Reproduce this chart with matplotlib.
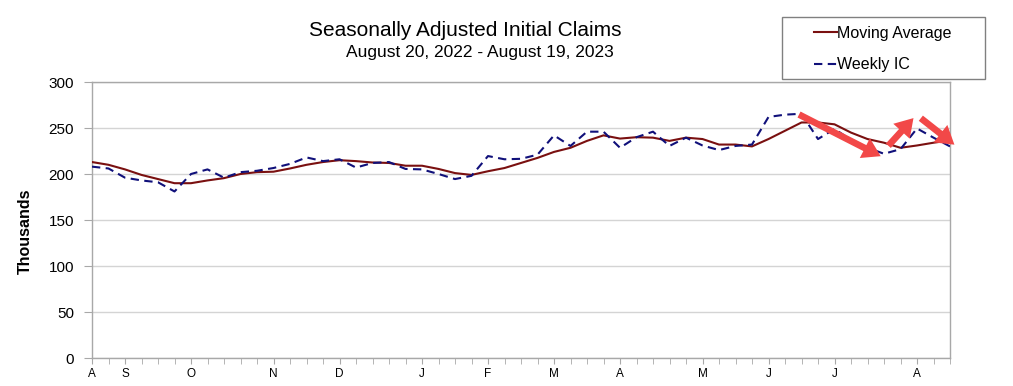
import numpy as np
import pandas as pd
import matplotlib
matplotlib.use('Agg')
import matplotlib.pyplot as plt
from matplotlib.patches import Rectangle, FancyArrowPatch

plt.rcParams['font.family'] = ['Liberation Sans', 'DejaVu Sans']

# weekly data, week ending Saturday
weeks = pd.date_range('2022-08-20', '2023-08-19', freq='7D')

moving_avg = [213, 210, 205, 199, 194.5, 190, 190, 193, 195.5, 200,
              202, 202.5, 206, 210, 213, 215, 214, 212.5, 212, 209,
              209, 205.5, 201, 199, 203, 206.5, 212, 217.5, 224, 228.5,
              236, 242, 238.5, 240, 239.5, 236, 239.5, 238, 232, 232,
              230, 238, 247, 256, 256, 254, 245, 238, 234, 228.5,
              231, 234, 236.5]

weekly_ic = [208, 206, 196, 193, 191, 181, 200, 205, 196, 202,
             203.5, 206.5, 211, 218, 214, 216, 207, 212, 213, 205.5,
             205, 200, 194.5, 198, 219.5, 216, 216.5, 221, 242, 230.5,
             246, 246, 228.5, 240, 246, 230.5, 239.5, 231, 226, 230.5,
             232, 262, 264.5, 265.5, 238, 249, 237, 228.5, 222, 227,
             249.5, 239.5, 230]

# red annotation arrows (week index, thousands)
arrows = [((42.7, 266), (47.95, 218)),
          ((48.15, 228.5), (49.9, 263)),
          ((50.1, 262.5), (52.4, 230))]

title = 'Seasonally Adjusted Initial Claims'
subtitle = 'August 20, 2022 - August 19, 2023'


def main():
    x = np.arange(len(weeks))

    fig = plt.figure(figsize=(10.13, 3.86), dpi=100)
    ax = fig.add_axes([92 / 1013, 1 - 358 / 386, 858 / 1013, 276 / 386])

    ax.plot(x, moving_avg, color='#7a1010', lw=1.5, label='Moving Average', zorder=3)
    ax.plot(x, weekly_ic, color='#10107a', lw=1.5, linestyle=(0, (4, 2.6)),
            label='Weekly IC', zorder=3)

    for start, end in arrows:
        arr = FancyArrowPatch(start, end,
                              arrowstyle='simple,head_width=1.0,head_length=0.8,tail_width=0.3',
                              mutation_scale=16, color='#f24848', lw=0,
                              clip_on=False, zorder=5)
        ax.add_patch(arr)

    ax.set_xlim(0, len(weeks) - 1)
    ax.set_ylim(0, 300)
    ax.set_yticks(range(0, 301, 50))
    ax.grid(axis='y', color='#d4d4d4', lw=1)
    ax.set_axisbelow(True)

    # month letter at first week of each month
    pos, labs = [], []
    for i, d in enumerate(weeks):
        if i == 0 or d.month != weeks[i - 1].month:
            pos.append(i)
            labs.append(d.strftime('%B')[0])
    ax.set_xticks(pos)
    ax.set_xticklabels(labs, family=['Liberation Sans Narrow', 'Liberation Sans'], fontsize=8.5)
    ax.set_xticks(x, minor=True)
    ax.tick_params(axis='x', which='both', length=4, color='#a8a8a8', pad=3)
    ax.tick_params(axis='y', length=6, color='#a8a8a8', labelsize=11, pad=7)

    for sp in ax.spines.values():
        sp.set_color('#a8a8a8')
        sp.set_linewidth(1)

    ax.set_ylabel('Thousands', fontsize=11.5, fontweight='bold')
    ax.yaxis.set_label_coords(-0.069, 0.46)

    fig.text(0.459, 0.92, title, fontsize=15, ha='center', va='center')
    fig.text(0.474, 0.865, subtitle, fontsize=12.5, ha='center', va='center')

    # legend box
    fig.patches.append(Rectangle((782 / 1013, 1 - 79 / 386), 203 / 1013, 62 / 386,
                                 transform=fig.transFigure, fill=False,
                                 edgecolor='#808080', lw=1))
    fig.legend(loc='center', bbox_to_anchor=(883 / 1013, 1 - 49 / 386),
               frameon=False, fontsize=11.5, handlelength=1.4,
               handletextpad=0.05, labelspacing=1.05, borderaxespad=0)

    fig.savefig('out.png', dpi=100)


if __name__ == '__main__':
    main()
